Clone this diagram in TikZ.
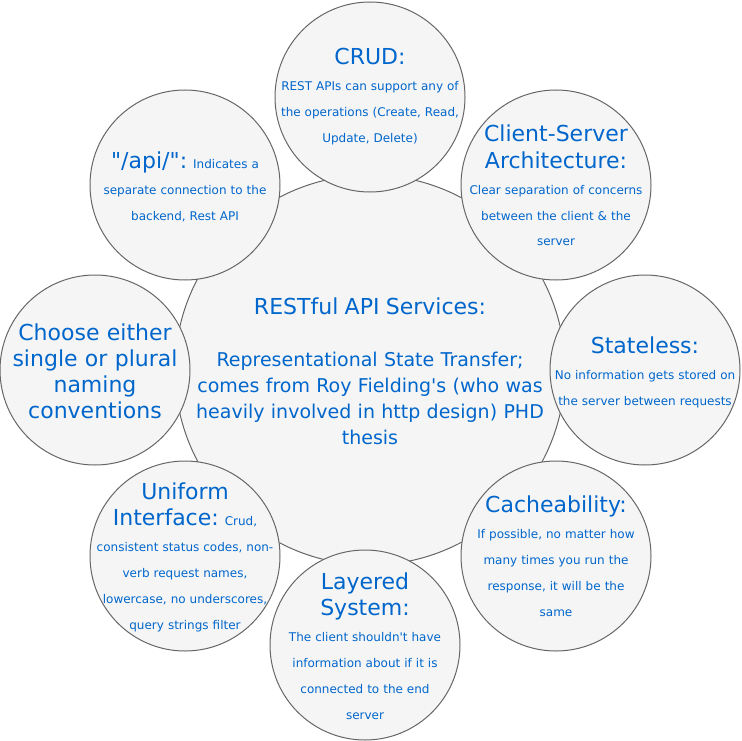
\documentclass[tikz,border=0pt]{standalone}
\usepackage{fontspec}
\setmainfont{DejaVu Sans}[Ligatures=TeXOff]
\definecolor{txtblue}{HTML}{0066CC}
\definecolor{circfill}{HTML}{F5F5F5}
\definecolor{circline}{HTML}{666666}
\newcommand\bigt[1]{{\fontsize{22}{26}\selectfont #1}}
\newcommand\tsp{\hspace*{0.4em}}
\begin{document}
\begin{tikzpicture}[x=1pt,y=-1pt,
  circ/.style={circle, draw=circline, fill=circfill, line width=1pt, inner sep=0pt, minimum size=#1},
  txt/.style={text=txtblue, align=center, text width=#1, inner sep=0pt, anchor=base, font=\fontsize{12}{26}\selectfont},
  bigtxt/.style={txt=#1, font=\fontsize{22}{26}\selectfont},
  midtxt/.style={txt=#1, font=\fontsize{19}{26}\selectfont}
]
\useasboundingbox (0,0) rectangle (741,741);
% central circle
\node[circ=390pt] (mainc) at (370,370) {};
% outer circles
\node[circ=190pt] (crudc) at (370,97) {};
\node[circ=190pt] (csc) at (556,185) {};
\node[circ=190pt] (statec) at (645,370) {};
\node[circ=190pt] (cachec) at (556,556) {};
\node[circ=190pt] (layerc) at (365,645) {};
\node[circ=190pt] (unifc) at (185,556) {};
\node[circ=190pt] (choosec) at (95,370) {};
\node[circ=190pt] (apic) at (185,185) {};
% texts
\node[midtxt=380pt] (maint) at (370,314) {\bigt{RESTful API Services:}\\[26pt]
  Representational State Transfer;\tsp\\
  comes from Roy Fielding's (who was\\
  heavily involved in http design) PHD\\
  thesis};
\node[txt=220pt] (crudt) at (370,65) {\bigt{CRUD:\tsp}\\
  REST APIs can support any of\\
  the operations (Create, Read,\\
  Update, Delete)};
\node[txt=220pt] (cst) at (556,142) {\bigt{Client-Server}\\
  \bigt{Architecture:\tsp}\\
  Clear separation of concerns\\
  between the client \& the\\
  server};
\node[txt=220pt] (statet) at (645,353) {\bigt{Stateless:\tsp}\\
  No information gets stored on\\
  the server between requests};
\node[txt=220pt] (cachet) at (556,512) {\bigt{Cacheability:\tsp}\\
  If possible, no matter how\\
  many times you run the\\
  response, it will be the\\
  same};
\node[txt=220pt] (layert) at (365,589) {\bigt{Layered}\\
  \bigt{System:\tsp}\\
  The client shouldn't have\\
  information about if it is\\
  connected to the end\\
  server};
\node[txt=220pt] (unift) at (185,499) {\bigt{Uniform}\\
  \bigt{Interface:} Crud,\\
  consistent status codes, non-\\
  verb request names,\\
  lowercase, no underscores,\\
  query strings filter};
\node[bigtxt=220pt] (chooset) at (95,340) {Choose either\\
  single or plural\\
  naming\\
  conventions};
\node[txt=220pt] (apit) at (185,168) {\bigt{"/api/":} Indicates a\\
  separate connection to the\\
  backend, Rest API};
\end{tikzpicture}
\end{document}
